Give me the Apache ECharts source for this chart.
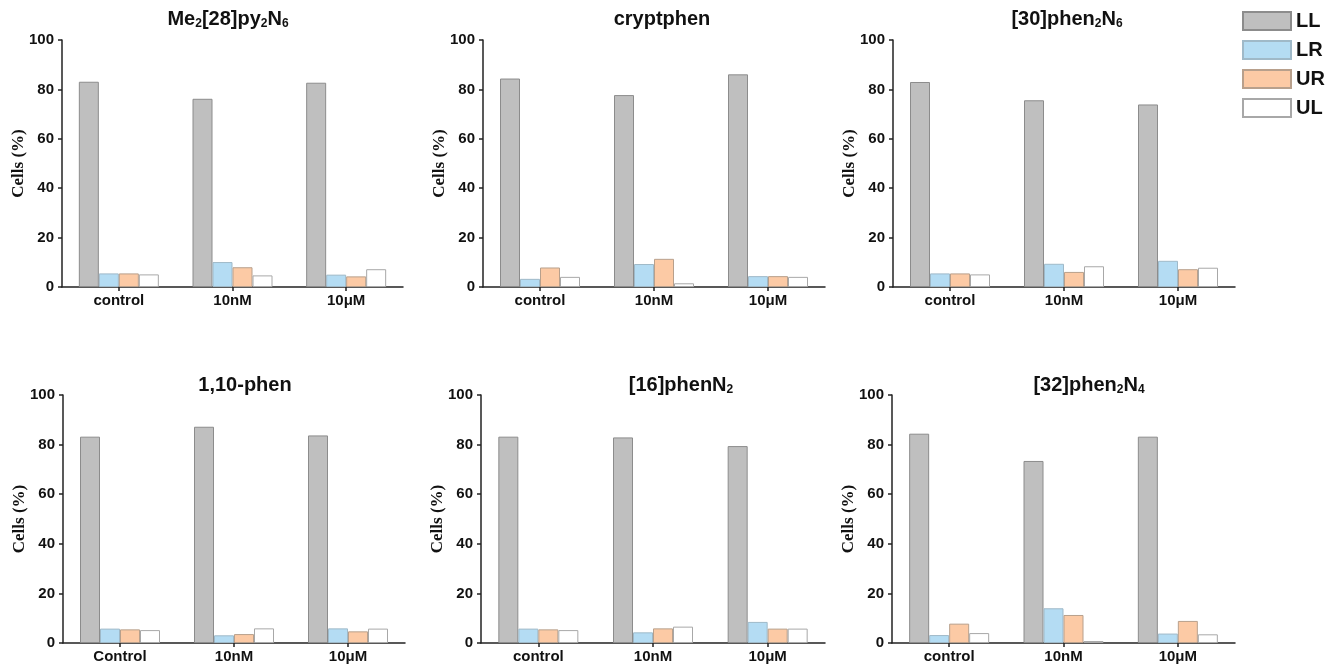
<!DOCTYPE html>
<html>
<head>
<meta charset="utf-8">
<script src="https://cdn.jsdelivr.net/npm/echarts@6/dist/echarts.min.js"></script>
<style>html,body{margin:0;padding:0;background:#fff}#c{width:1337px;height:666px}</style>
</head>
<body>
<div id="c"></div>
<script>
// ---- data ----
const panelTitles = ['Me{s|2}[28]py{s|2}N{s|6}', 'cryptphen', '[30]phen{s|2}N{s|6}', '1,10-phen', '[16]phenN{s|2}', '[32]phen{s|2}N{s|4}'];
const categoriesLower = ['control', '10nM', '10μM'];
const categoriesUpper = ['Control', '10nM', '10μM'];
const seriesNames = ['LL', 'LR', 'UR', 'UL'];
const yTicks = [0, 20, 40, 60, 80, 100];
// values per panel: [control, 10nM, 10μM]
const LL = [[83.1, 76.2, 82.7], [84.4, 77.7, 86.1], [83.0, 75.6, 73.9], [83.2, 87.2, 83.7], [83.2, 82.9, 79.4], [84.4, 73.4, 83.2]];
const LR = [[5.5, 10.1, 5.0], [3.3, 9.3, 4.4], [5.5, 9.4, 10.6], [5.8, 3.1, 5.9], [5.8, 4.3, 8.5], [3.2, 14.0, 3.8]];
const UR = [[5.5, 8.0, 4.3], [7.9, 11.4, 4.4], [5.5, 6.1, 7.2], [5.5, 3.6, 4.7], [5.5, 5.9, 5.8], [7.8, 11.3, 8.9]];
const UL = [[5.1, 4.7, 7.2], [4.1, 1.5, 4.1], [5.1, 8.4, 7.8], [5.2, 5.9, 5.8], [5.2, 6.6, 5.8], [4.0, 0.8, 3.5]];
const valueSets = [LL, LR, UR, UL];

// ---- layout / style ----
const grids = [
  {left: 62, top: 40, width: 341, height: 247},
  {left: 483, top: 40, width: 342, height: 247},
  {left: 893, top: 40, width: 342, height: 247},
  {left: 63, top: 395, width: 342, height: 248},
  {left: 481, top: 395, width: 344, height: 248},
  {left: 892, top: 395, width: 343, height: 248}
];
const titlePos = [[228, 8], [662, 8], [1067, 8], [245, 374], [681, 374], [1089, 374]];
const fills = ['#bfbfbf', '#b4dcf3', '#fccaa5', '#ffffff'];
const borders = ['#8c8c8c', '#9fb9c8', '#b8a08c', '#a8a8a8'];

const option = {
  backgroundColor: '#fff',
  animation: false,
  title: panelTitles.map((t, i) => ({
    text: t,
    left: titlePos[i][0],
    top: titlePos[i][1],
    textAlign: 'center',
    padding: 0,
    textStyle: {
      fontFamily: 'Liberation Sans, Arial, sans-serif',
      fontWeight: 'bold', fontSize: 20, color: '#111', lineHeight: 22,
      rich: { s: { fontFamily: 'Liberation Sans, Arial, sans-serif', fontWeight: 'bold', fontSize: 12, color: '#111', verticalAlign: 'bottom', lineHeight: 14 } }
    }
  })),
  legend: {
    data: seriesNames,
    orient: 'vertical',
    left: 1242, top: 11,
    itemWidth: 48, itemHeight: 18, itemGap: 9,
    icon: 'rect',
    textStyle: { fontFamily: 'Liberation Sans, Arial, sans-serif', fontWeight: 'bold', fontSize: 20, color: '#111', padding: [0, 0, 0, 0] },
    padding: 0
  },
  grid: grids.map(g => Object.assign({containLabel: false}, g)),
  xAxis: grids.map((g, i) => ({
    type: 'category', gridIndex: i,
    data: i === 3 ? categoriesUpper : categoriesLower,
    axisLine: { lineStyle: { color: '#222', width: 1.5 } },
    axisTick: { show: true, alignWithLabel: true, length: 4, lineStyle: { color: '#222', width: 1.5 } },
    axisLabel: { fontFamily: 'Liberation Sans, Arial, sans-serif', fontWeight: 'bold', fontSize: 15, color: '#111', margin: 6 }
  })),
  yAxis: grids.map((g, i) => ({
    type: 'value', gridIndex: i, min: 0, max: 100, interval: 20,
    name: 'Cells (%)', nameLocation: 'middle', nameGap: 35, nameMoveOverlap: false,
    nameTextStyle: { fontFamily: 'Liberation Serif, Times New Roman, serif', fontWeight: 'bold', fontSize: 17, color: '#111' },
    splitLine: { show: false },
    axisLine: { show: true, lineStyle: { color: '#222', width: 1.5 } },
    axisTick: { show: true, length: 4, lineStyle: { color: '#222', width: 1.5 } },
    axisLabel: { fontFamily: 'Liberation Sans, Arial, sans-serif', fontWeight: 'bold', fontSize: 15, color: '#111', margin: 8,
      formatter: v => (yTicks.indexOf(v) >= 0 ? String(v) : '') }
  })),
  series: []
};

grids.forEach((g, p) => {
  seriesNames.forEach((name, k) => {
    option.series.push({
      type: 'bar', name: name,
      xAxisIndex: p, yAxisIndex: p,
      barWidth: 20, barGap: '0%',
      itemStyle: { color: fills[k], borderColor: borders[k], borderWidth: 1 },
      data: valueSets[k][p]
    });
  });
});

const chart = echarts.init(document.getElementById('c'), null, {renderer: 'canvas'});
chart.setOption(option);
</script>
</body>
</html>
